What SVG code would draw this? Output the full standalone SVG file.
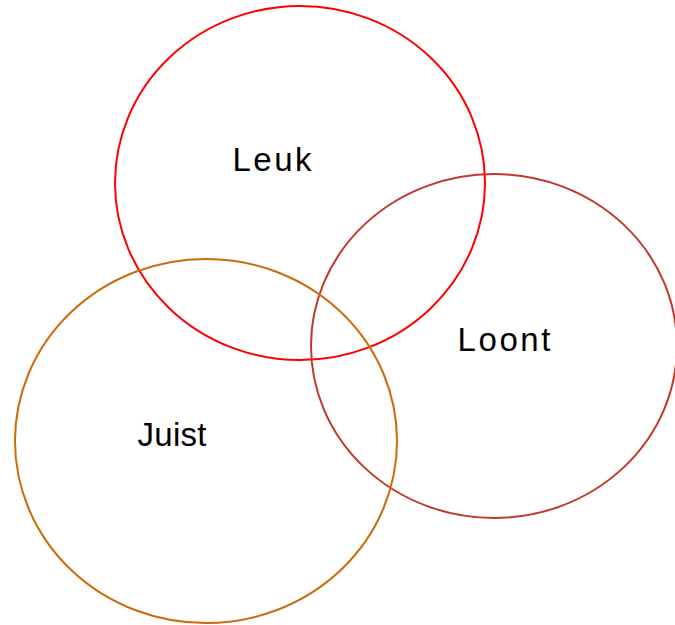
<svg xmlns="http://www.w3.org/2000/svg" width="675" height="625" viewBox="0 0 675 625">
<style>
.c{fill:none;stroke-width:2}
.t{font-family:"Liberation Sans",Arial,sans-serif;font-size:33px;fill:#000;text-anchor:middle}
</style>
<rect width="675" height="625" fill="#fff"/>
<g id="leuk"><ellipse class="c" cx="300" cy="183" rx="185" ry="177" stroke="#FF0000"/><text class="t" x="272" y="171" textLength="79" lengthAdjust="spacing">Leuk</text></g>
<g id="loont"><ellipse class="c" cx="494" cy="346" rx="183" ry="172" stroke="#C0392B"/><text class="t" x="504" y="351" textLength="93" lengthAdjust="spacing">Loont</text></g>
<g id="juist"><ellipse class="c" cx="206" cy="441" rx="191" ry="182" stroke="#CC6A0C"/><text class="t" x="172" y="446" textLength="69" lengthAdjust="spacing">Juist</text></g>
<g id="connectors"/>
</svg>
